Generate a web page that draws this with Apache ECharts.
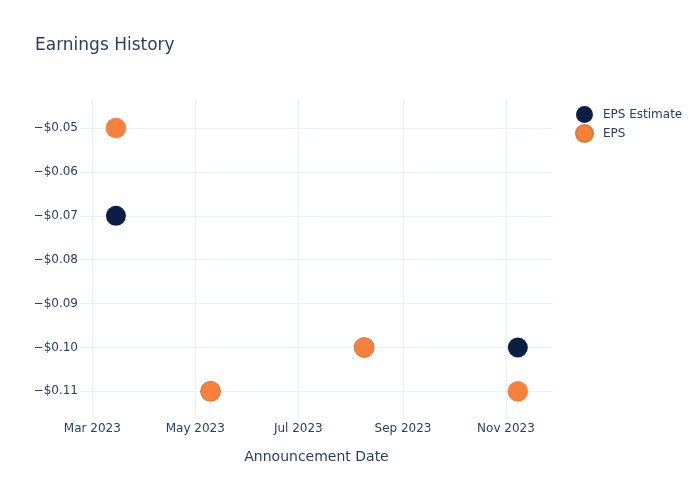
<!DOCTYPE html>
<html>
<head>
<meta charset="utf-8">
<script src="https://cdn.jsdelivr.net/npm/echarts@6/dist/echarts.min.js"></script>
<style>html,body{margin:0;padding:0;background:#fff}#c{width:700px;height:500px}</style>
</head>
<body>
<div id="c"></div>
<script>
const dates = ['2023-03-15', '2023-05-10', '2023-08-09', '2023-11-08'];
const epsEstimate = [-0.07, -0.11, -0.10, -0.10];
const eps = [-0.05, -0.11, -0.10, -0.11];
const xMin = '2023-02-21T17:00:00';
const xMax = '2023-11-28T20:00:00';
const yMin = -0.1163;
const yMax = -0.0436;

const txt = '#2a3f5f';
const font = '"DejaVu Sans", "Open Sans", sans-serif';
const fmtY = v => (v < 0 ? '\u2212' : '') + '$' + Math.abs(v).toFixed(2);
const months = ['Jan','Feb','Mar','Apr','May','Jun','Jul','Aug','Sep','Oct','Nov','Dec'];

const chart = echarts.init(document.getElementById('c'), null, {renderer: 'canvas'});
chart.setOption({
  backgroundColor: '#fff',
  animation: false,
  textStyle: {fontFamily: font},
  title: {
    text: 'Earnings History',
    left: 30, top: 32,
    textStyle: {fontSize: 17, fontWeight: 'normal', color: txt, fontFamily: font}
  },
  legend: {
    orient: 'vertical',
    left: 570, top: 101,
    itemWidth: 17, itemHeight: 17, itemGap: 1,
    icon: 'circle',
    textStyle: {fontSize: 12, color: txt, fontFamily: font, padding: [0, 0, 0, 5]},
    data: ['EPS Estimate', 'EPS']
  },
  grid: {left: 80, right: 147, top: 100, bottom: 81, containLabel: false},
  xAxis: {
    type: 'time',
    min: xMin, max: xMax,
    splitNumber: 4,
    name: 'Announcement Date',
    nameLocation: 'middle',
    nameGap: 31,
    nameTextStyle: {fontSize: 14, color: txt, fontFamily: font},
    axisLine: {show: false},
    axisTick: {show: false},
    axisLabel: {
      color: txt, fontSize: 12, margin: 4, fontFamily: font,
      showMinLabel: false, showMaxLabel: false,
      formatter: v => { const d = new Date(v); return months[d.getMonth()] + ' ' + d.getFullYear(); }
    },
    splitLine: {show: true, showMinLine: false, showMaxLine: false, lineStyle: {color: '#EBF0F8', width: 1}}
  },
  yAxis: {
    type: 'value',
    min: yMin, max: yMax,
    splitNumber: 7,
    axisLine: {show: false},
    axisTick: {show: false},
    axisLabel: {color: txt, fontSize: 12, margin: 2, fontFamily: font, showMinLabel: false, showMaxLabel: false, formatter: fmtY},
    splitLine: {show: true, showMinLine: false, showMaxLine: false, lineStyle: {color: '#EBF0F8', width: 1}}
  },
  series: [
    {
      name: 'EPS Estimate', type: 'scatter', symbolSize: 20,
      itemStyle: {color: '#0b1f45', opacity: 1},
      data: dates.map((d, i) => [d, epsEstimate[i]])
    },
    {
      name: 'EPS', type: 'scatter', symbolSize: 20,
      itemStyle: {color: '#f7813a', opacity: 1, borderColor: '#e07838', borderWidth: 0.5},
      data: dates.map((d, i) => [d, eps[i]])
    }
  ]
});
</script>
</body>
</html>
